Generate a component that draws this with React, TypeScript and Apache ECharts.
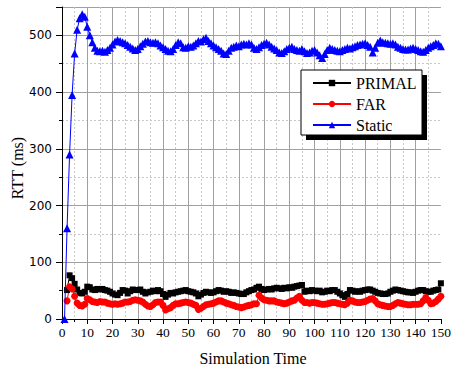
import React, { useEffect, useRef } from "react";
import * as echarts from "echarts";

const seriesNames = ["PRIMAL", "FAR", "Static"];
const xTicks = [0, 150, 10];
const yTicks = [0, 550, 100];

// time steps 1..150
const times: number[] = Array.from({ length: 150 }, (_, i) => i + 1);

const primal: (number | null)[] = [
  null, 51, 77, 72, 62, 52, 46, 45, 48, 57,
  56, 52, 51, 53, 52, 53, 51, 50, 48, 45,
  43, 42, 46, 51, 50, 45, 49, 52, 51, 51,
  52, 48, 45, 47, 48, 50, 49, 51, 49, 44,
  39, 43, 46, 45, 47, 48, 49, 50, 51, 49,
  48, 47, 45, 40, 43, 46, 48, 47, 46, 47,
  49, 51, 50, 48, 49, 48, 46, 47, 46, 45,
  44, 44, 47, 49, 51, 52, 55, 57, 53, 51,
  52, 53, 52, 54, 55, 54, 53, 55, 54, 56,
  55, 57, 58, 59, 60, 48, 50, 49, 51, 50,
  49, 50, 47, 48, 50, 49, 51, 51, 48, 45,
  42, 39, 44, 51, 50, 48, 49, 48, 50, 51,
  52, 52, 50, 48, 46, 45, 44, 44, 45, 48,
  50, 52, 51, 50, 49, 48, 47, 47, 46, 48,
  50, 51, 51, 49, 48, 48, 50, 51, 52, 63,
];

const far: (number | null)[] = [
  null, 32, 57, 53, 40, 28, 24, 23, 26, 36,
  34, 31, 30, 29, 31, 30, 30, 28, 27, 26,
  27, 26, 27, 28, 30, 30, 31, 33, 34, 33,
  32, 30, 26, 23, 22, 25, 29, 30, 30, 24,
  16, 18, 20, 24, 27, 27, 28, 29, 30, 29,
  28, 26, 24, 17, 19, 22, 25, 26, 27, 28,
  30, 32, 32, 30, 28, 27, 25, 24, 22, 21,
  20, 21, 23, 24, 25, 27, 27, 42, 37, 34,
  33, 32, 32, 32, 30, 29, 28, 27, 28, 30,
  32, 33, 37, 40, 33, 29, 29, 28, 29, 29,
  28, 27, 26, 26, 27, 28, 29, 29, 28, 27,
  26, 25, 28, 33, 32, 30, 29, 29, 30, 31,
  33, 35, 36, 32, 27, 25, 24, 23, 22, 22,
  24, 27, 29, 28, 27, 26, 25, 25, 26, 26,
  26, 27, 32, 38, 33, 27, 28, 31, 35, 40,
];

const staticRtt: number[] = [
  0, 160, 290, 395, 468, 510, 530, 537, 533, 515,
  500, 488, 478, 473, 472, 473, 471, 474, 478, 484,
  489, 492, 490, 488, 486, 483, 480, 477, 474, 476,
  481, 485, 489, 490, 488, 487, 488, 486, 482, 479,
  476, 473, 472, 476, 483, 488, 486, 479, 478, 481,
  480, 482, 486, 490, 489, 493, 496, 490, 486, 482,
  479, 476, 473, 468, 467, 473, 478, 480, 482, 481,
  484, 485, 484, 486, 484, 478, 476, 479, 483, 485,
  487, 484, 480, 477, 474, 470, 469, 472, 476, 478,
  480, 476, 474, 473, 476, 472, 469, 470, 473, 474,
  470, 465, 460, 467, 474, 478, 476, 474, 473, 472,
  474, 476, 478, 477, 479, 481, 483, 484, 485, 486,
  483, 480, 470, 478, 487, 491, 488, 487, 486, 485,
  486, 484, 480, 478, 476, 475, 475, 477, 478, 476,
  474, 472, 471, 474, 478, 481, 483, 486, 485, 481,
];

const SERIF = '"Liberation Serif", "Times New Roman", serif';
const SANS = '"DejaVu Sans", Verdana, sans-serif';

export default function App() {
  const ref = useRef<HTMLDivElement>(null);
  useEffect(() => {
    if (!ref.current) return;
    const chart = echarts.init(ref.current, null, { renderer: "svg" });
    const pair = (vals: (number | null)[]) =>
      times.map((t, i) => [t, vals[i]]).filter((p) => p[1] !== null);
    chart.setOption({
      animation: false,
      backgroundColor: "#ffffff",
      grid: { left: 62, right: 11, top: 7, bottom: 47, containLabel: false },
      xAxis: {
        type: "value",
        min: xTicks[0],
        max: xTicks[1],
        interval: xTicks[2],
        axisLine: { show: true, onZero: false, lineStyle: { color: "#000", width: 1 } },
        axisTick: { show: true, inside: false, length: 5, lineStyle: { color: "#000" } },
        minorTick: { show: true, splitNumber: 2, length: 3, lineStyle: { color: "#000" } },
        splitLine: {
          show: true,
          showMinLine: false,
          showMaxLine: false,
          lineStyle: { color: "#a0a0a0", width: 1, type: "solid" },
        },
        minorSplitLine: { show: true, lineStyle: { color: "#c8c8c8", width: 1, type: [2, 2] } },
        axisLabel: { margin: 6, fontFamily: SERIF, fontSize: 13.5, color: "#000" },
      },
      yAxis: {
        type: "value",
        min: yTicks[0],
        max: yTicks[1],
        interval: yTicks[2],
        axisLine: { show: true, lineStyle: { color: "#000", width: 1 } },
        axisTick: { show: true, inside: false, length: 6, lineStyle: { color: "#000" } },
        minorTick: { show: true, splitNumber: 2, length: 3, lineStyle: { color: "#000" } },
        splitLine: {
          show: true,
          showMinLine: false,
          lineStyle: { color: "#a0a0a0", width: 1, type: "solid" },
        },
        minorSplitLine: { show: true, lineStyle: { color: "#c8c8c8", width: 1, type: [2, 2] } },
        axisLabel: {
          margin: 10,
          fontFamily: SANS,
          fontSize: 12,
          color: "#000",
          formatter: (v: number) => (v % 100 === 0 ? String(v) : ""),
        },
      },
      legend: {
        orient: "vertical",
        left: 312,
        top: 75,
        itemWidth: 38,
        itemHeight: 8,
        itemGap: 5,
        padding: 0,
        z: 6,
        textStyle: { fontFamily: SERIF, fontSize: 16, color: "#000", lineHeight: 16 },
        data: seriesNames,
      },
      graphic: [
        {
          type: "rect",
          z: 4,
          shape: { x: 306, y: 75, width: 121, height: 65 },
          style: { fill: "#000" },
        },
        {
          type: "rect",
          z: 5,
          shape: { x: 301, y: 70, width: 121, height: 65 },
          style: { fill: "#fff", stroke: "#000", lineWidth: 1 },
        },
        {
          type: "text",
          x: 17,
          y: 168,
          rotation: Math.PI / 2,
          style: {
            text: "RTT (ms)",
            fontFamily: SERIF,
            fontSize: 16,
            fill: "#000",
            align: "center",
            verticalAlign: "middle",
          },
        },
        {
          type: "text",
          x: 253,
          y: 358,
          style: {
            text: "Simulation Time",
            fontFamily: SERIF,
            fontSize: 16,
            fill: "#000",
            align: "center",
            verticalAlign: "middle",
          },
        },
      ],
      series: [
        {
          name: seriesNames[0],
          type: "line",
          data: pair(primal),
          symbol: "rect",
          symbolSize: 6,
          color: "#000000",
          lineStyle: { width: 1, color: "#000000" },
          itemStyle: { color: "#000000" },
          z: 2,
        },
        {
          name: seriesNames[1],
          type: "line",
          data: pair(far),
          symbol: "circle",
          symbolSize: 7,
          color: "#ff0000",
          lineStyle: { width: 1, color: "#ff0000" },
          itemStyle: { color: "#ff0000" },
          z: 2,
        },
        {
          name: seriesNames[2],
          type: "line",
          data: pair(staticRtt),
          symbol: "triangle",
          symbolSize: 8,
          color: "#0000ff",
          lineStyle: { width: 1, color: "#0000ff" },
          itemStyle: { color: "#0000ff" },
          z: 3,
        },
      ],
    });
    return () => chart.dispose();
  }, []);
  return (
    <div style={{ position: "absolute", left: 0, top: 0, width: 454, height: 366, background: "#fff" }}>
      <div ref={ref} style={{ width: 454, height: 366 }} />
    </div>
  );
}
